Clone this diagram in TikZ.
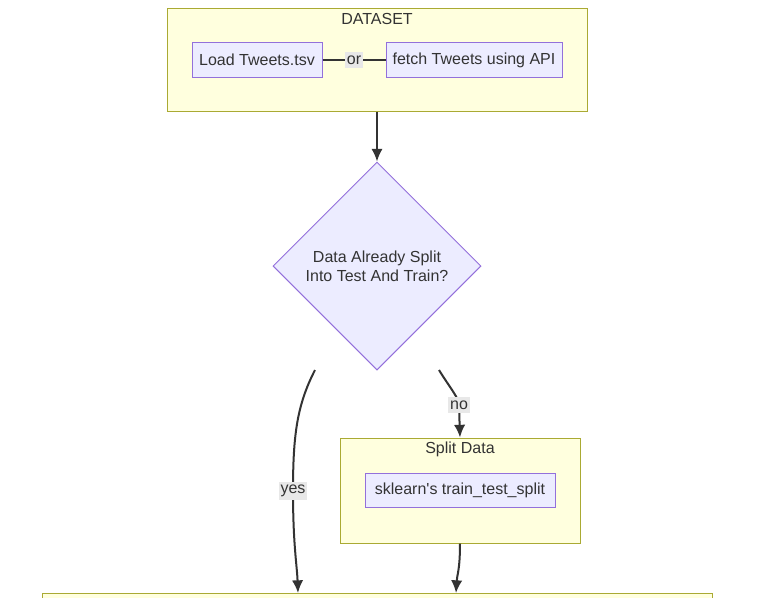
\documentclass[tikz,border=0pt]{standalone}
\usepackage{fontspec}
\setmainfont{Liberation Sans}
\usetikzlibrary{shapes.geometric,arrows.meta}
\definecolor{clfill}{HTML}{FFFFDE}
\definecolor{clline}{HTML}{AAAA33}
\definecolor{ndfill}{HTML}{ECECFF}
\definecolor{ndline}{HTML}{9370DB}
\definecolor{ink}{HTML}{333333}
\definecolor{lblfill}{HTML}{E8E8E8}
\tikzset{
	cluster/.style={draw=clline, fill=clfill, line width=0.75pt, inner sep=0pt},
	box/.style={draw=ndline, fill=ndfill, line width=0.75pt, text=ink, minimum height=26pt, inner sep=0pt},
	question/.style={diamond, draw=ndline, fill=ndfill, line width=0.75pt, text=ink, align=center, minimum width=156pt, minimum height=156pt, inner sep=0pt},
	title/.style={text=ink, inner sep=0pt},
	lbl/.style={fill=lblfill, text=ink, inner xsep=1.5pt, inner ysep=2.5pt},
	link/.style={draw=ink, line width=1.5pt},
	flow/.style={draw=ink, line width=1.5pt, -{Latex[length=9.5pt,width=8.5pt]}}
}
\begin{document}
\begin{tikzpicture}[x=0.75pt, y=-0.75pt, font=\fontsize{12pt}{14.5pt}\selectfont]
	\clip (0, 0) rectangle (775, 597);
	\fill[white] (0, 0) rectangle (775, 597);
	% clusters
	\node[cluster, minimum width=315pt, minimum height=77.25pt] at (377, 59.5)  (ds) {};
	\node[cluster, minimum width=180pt, minimum height=78.75pt] at (460, 490.5) (sp) {};
	\node[cluster, minimum width=502.5pt, minimum height=75pt]  at (377, 643)   (bt) {};
	\node[title] at (377, 19)  (dst) {DATASET};
	\node[title] at (460, 449) (spt) {Split Data};
	% nodes
	\node[box, minimum width=97.5pt]  at (257, 60)  (a) {Load Tweets.tsv};
	\node[box, minimum width=132pt]   at (474, 60)  (b) {fetch Tweets using API};
	\node[question]                   at (377, 266) (q) {Data Already Split\\Into Test And Train?};
	\node[box, minimum width=142.5pt] at (460, 490.5) (sk) {sklearn\textquotesingle s train\_test\_split};
	\coordinate (ys) at (315, 370);
	\coordinate (ye) at (298, 593);
	\coordinate (ns) at (439, 370);
	\coordinate (be) at (456, 593);
	% edges
	\draw[link] (a) -- node[lbl] {or} (b);
	\draw[flow] (ds) -- (q);
	\draw[flow] (ys) .. controls (297, 405) and (293, 435) .. (293, 491) node[lbl] {yes} .. controls (293, 545) and (297, 565) .. (ye);
	\draw[flow] (ns) .. controls (450, 388) and (459, 398) .. (459, 405) node[lbl] {no} -- (sp.north);
	\draw[flow] (sp.south) .. controls (460, 570) and (457, 575) .. (be);
\end{tikzpicture}
\end{document}
